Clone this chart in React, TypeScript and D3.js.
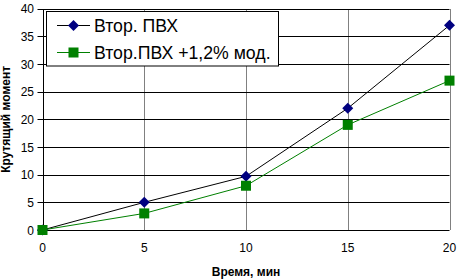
import React from "react";
import * as d3 from "d3";

const times = [0, 5, 10, 15, 20];
const seriesA = [0, 5, 9.7, 22, 37];
const seriesB = [0, 3, 8, 19, 27];
const seriesNames = ["Втор. ПВХ", "Втор.ПВХ +1,2% мод."];
const yTicks = [0, 5, 10, 15, 20, 25, 30, 35, 40];
const xTicks = [0, 5, 10, 15, 20];
const xTitle = "Время, мин";
const yTitle = "Крутящий момент";

const W = 458;
const H = 279;
const FONT = "Arial, 'Liberation Sans', sans-serif";

export default function App() {
  const x = d3.scaleLinear().domain([0, 20]).range([42.5, 449.5]);
  const y = d3.scaleLinear().domain([0, 40]).range([230, 8.7]);
  const line = d3
    .line<number>()
    .x((_, i) => x(times[i]))
    .y((d) => y(d));
  const diamond = (cx: number, cy: number, r: number) =>
    `M${cx},${cy - r}L${cx + r},${cy}L${cx},${cy + r}L${cx - r},${cy}Z`;

  return (
    <svg
      width={W}
      height={H}
      style={{ position: "absolute", left: 0, top: 0, background: "#fff" }}
      fontFamily={FONT}
    >
      {/* vertical gridlines */}
      {xTicks.slice(1).map((t) => (
        <line
          key={"vx" + t}
          x1={Math.round(x(t)) + 0.5}
          x2={Math.round(x(t)) + 0.5}
          y1={Math.round(y(40))}
          y2={y(0)}
          stroke="#808080"
          strokeWidth={1}
        />
      ))}
      {/* horizontal gridlines */}
      {yTicks.map((t) => (
        <line
          key={"hy" + t}
          x1={x(0) - 5}
          x2={x(20)}
          y1={Math.round(y(t)) + 0.5}
          y2={Math.round(y(t)) + 0.5}
          stroke="#000"
          strokeWidth={1}
        />
      ))}
      {/* y axis */}
      <line x1={Math.round(x(0)) + 0.5} x2={Math.round(x(0)) + 0.5} y1={Math.round(y(40))} y2={y(0) + 1} stroke="#000" />
      {/* y tick labels */}
      {yTicks.map((t) => (
        <text
          key={"yl" + t}
          x={34}
          y={y(t) + 4.5}
          textAnchor="end"
          fontSize={12}
          fill="#000"
        >
          {t}
        </text>
      ))}
      {/* x tick labels */}
      {xTicks.map((t) => (
        <text
          key={"xl" + t}
          x={x(t)}
          y={251.5}
          textAnchor="middle"
          fontSize={12}
          fill="#000"
        >
          {t}
        </text>
      ))}
      <text x={(x(0) + x(20)) / 2} y={276} textAnchor="middle" fontSize={12} fontWeight="bold">
        {xTitle}
      </text>
      <text
        transform={`translate(10,${(y(0) + y(40)) / 2}) rotate(-90)`}
        textAnchor="middle"
        fontSize={12}
        fontWeight="bold"
      >
        {yTitle}
      </text>

      {/* series lines */}
      <path d={line(seriesA) || ""} fill="none" stroke="#000" strokeWidth={1} />
      <path d={line(seriesB) || ""} fill="none" stroke="#008000" strokeWidth={1} />
      {seriesA.map((v, i) => (
        <path key={"ma" + i} d={diamond(x(times[i]), y(v), 5.5)} fill="#000080" />
      ))}
      {seriesB.map((v, i) => (
        <rect key={"mb" + i} x={x(times[i]) - 5} y={y(v) - 5} width={10} height={10} fill="#008000" />
      ))}

      {/* legend */}
      <rect x={46.5} y={11.5} width={232} height={54.5} fill="#fff" stroke="#000" strokeWidth={1} />
      <line x1={57} x2={90} y1={25.5} y2={25.5} stroke="#000" />
      <path d={diamond(73.5, 25.5, 5.5)} fill="#000080" />
      <text x={94} y={32} fontSize={17.7} fill="#000">
        {seriesNames[0]}
      </text>
      <line x1={57} x2={90} y1={52.5} y2={52.5} stroke="#008000" />
      <rect x={68.5} y={47.5} width={10} height={10} fill="#008000" />
      <text x={94} y={59} fontSize={17.7} fill="#000">
        {seriesNames[1]}
      </text>
    </svg>
  );
}
